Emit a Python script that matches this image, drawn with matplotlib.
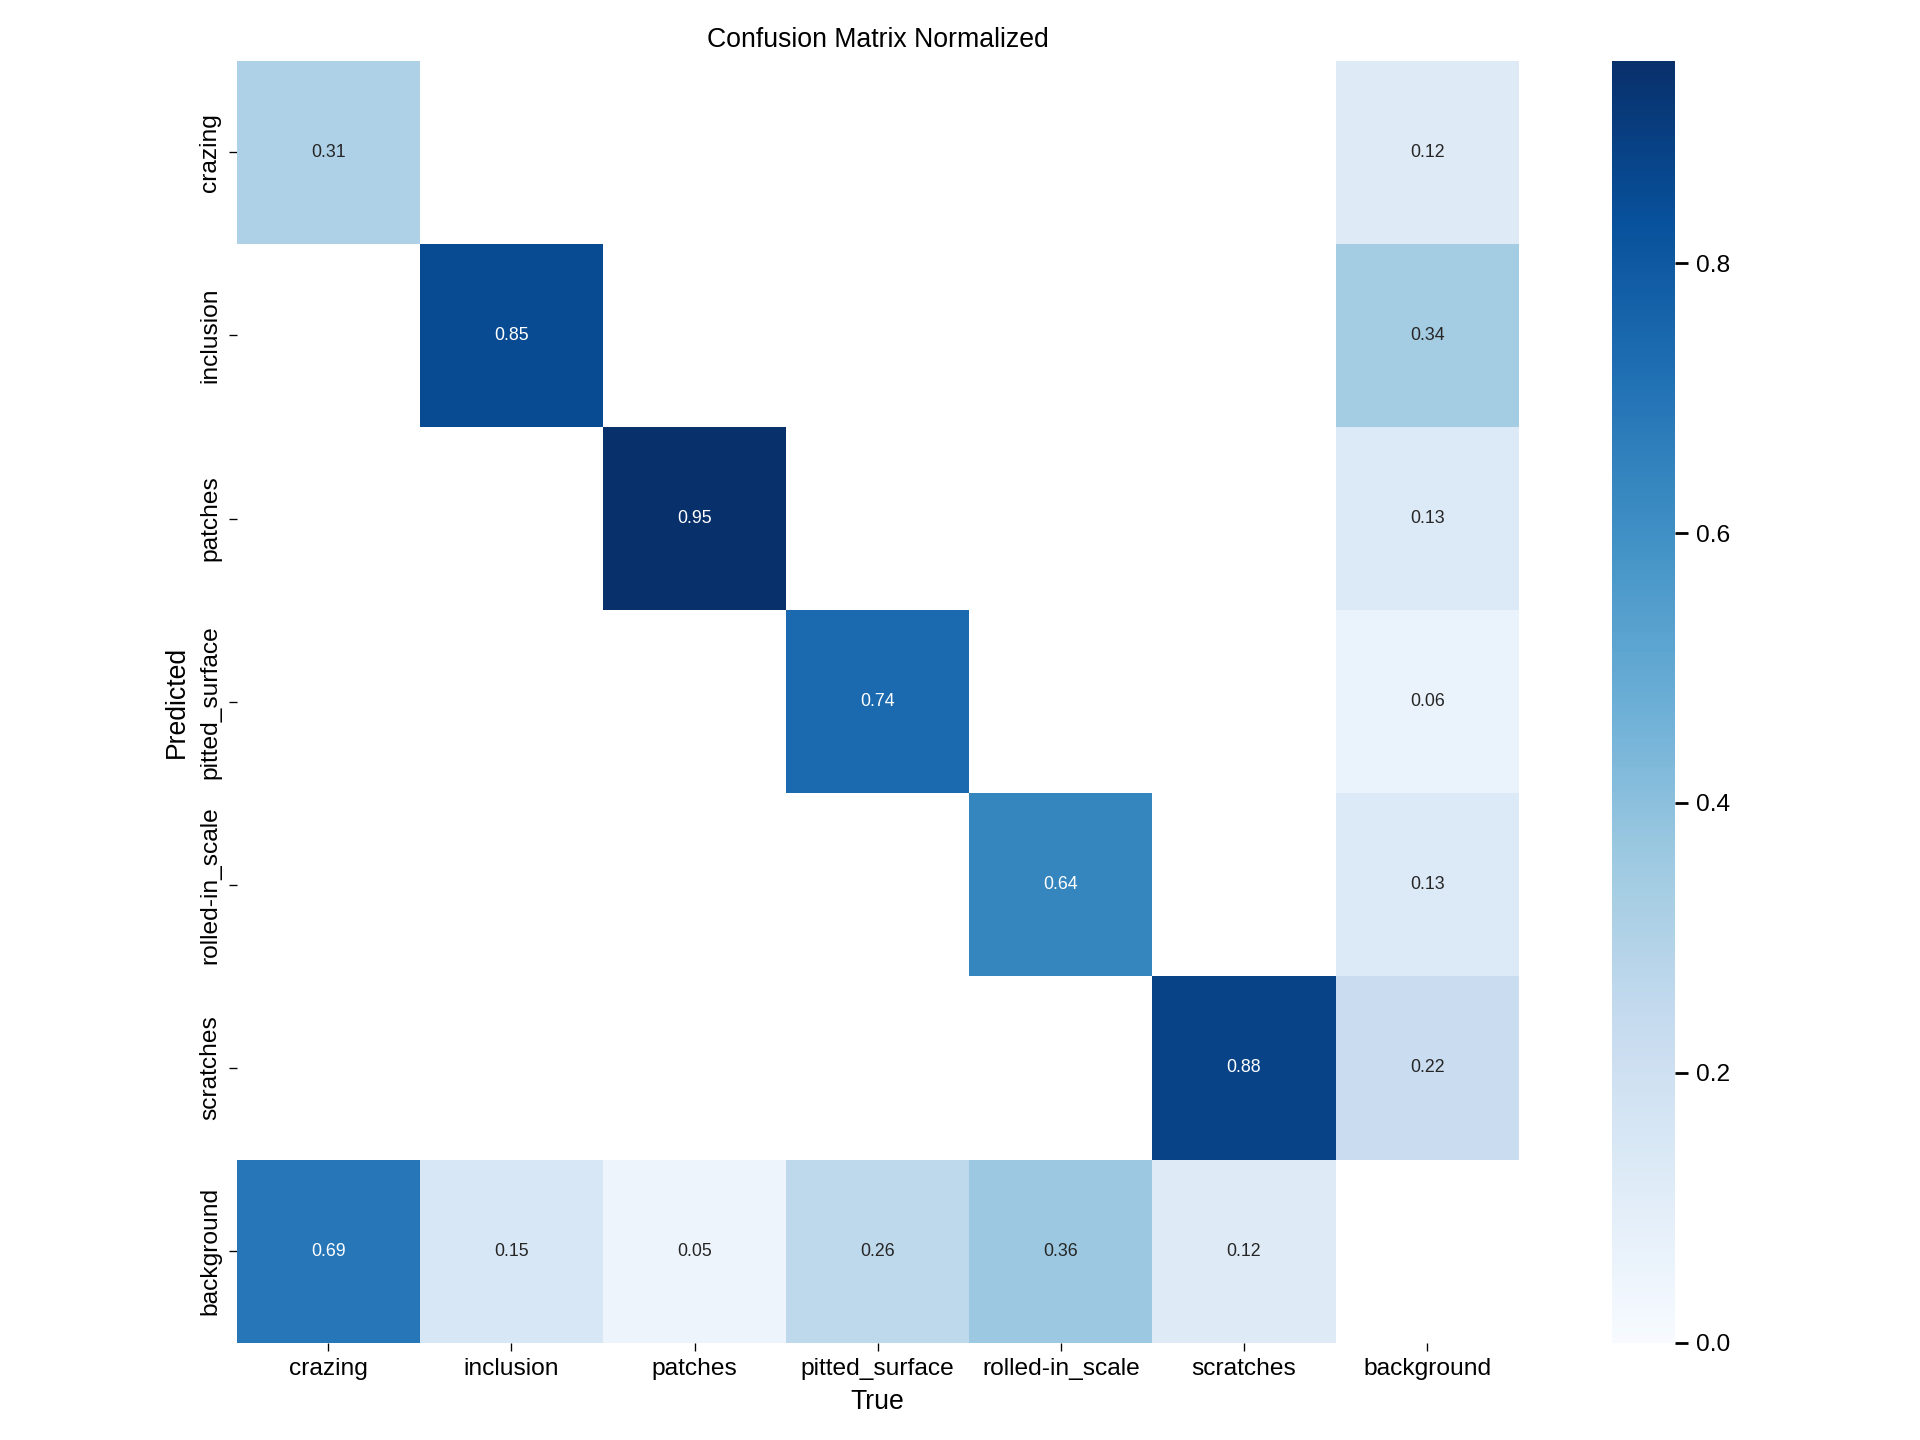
import numpy as np
import matplotlib
matplotlib.use("Agg")
import matplotlib.pyplot as plt
import seaborn as sns

labels = ["crazing", "inclusion", "patches", "pitted_surface", "rolled-in_scale", "scratches", "background"]
nan = np.nan
row_crazing = [0.31, nan, nan, nan, nan, nan, 0.12]
row_inclusion = [nan, 0.85, nan, nan, nan, nan, 0.34]
row_patches = [nan, nan, 0.95, nan, nan, nan, 0.13]
row_pitted = [nan, nan, nan, 0.74, nan, nan, 0.06]
row_rolled = [nan, nan, nan, nan, 0.64, nan, 0.13]
row_scratches = [nan, nan, nan, nan, nan, 0.88, 0.22]
row_background = [0.69, 0.15, 0.05, 0.26, 0.36, 0.12, nan]

array = np.array([row_crazing, row_inclusion, row_patches, row_pitted,
                  row_rolled, row_scratches, row_background])

sns.set_theme(font_scale=1.0)
plt.rcParams['font.family'] = ['Liberation Sans', 'DejaVu Sans']
plt.rcParams['xtick.bottom'] = True
plt.rcParams['ytick.left'] = True
plt.rcParams['ytick.right'] = False
plt.rcParams['xtick.color'] = 'black'
plt.rcParams['ytick.color'] = 'black'
plt.rcParams['xtick.labelcolor'] = 'black'
plt.rcParams['ytick.labelcolor'] = 'black'
plt.rcParams['text.color'] = 'black'
plt.rcParams['axes.labelcolor'] = 'black'

W, H = 1920.0, 1440.0
fig = plt.figure(figsize=(12, 9))
ax = fig.add_axes([236.7 / W, (H - 1342.7) / H, 1282 / W, 1282 / H])
cax = fig.add_axes([1612 / W, (H - 1342.7) / H, 63 / W, 1282 / H])
sns.heatmap(array, ax=ax, cbar_ax=cax, annot=True, annot_kws={"size": 8}, cmap='Blues', fmt='.2f',
            square=True, vmin=0.0, xticklabels=labels, yticklabels=labels).set_facecolor((1, 1, 1))
ax.set_xlabel('True')
ax.set_ylabel('Predicted')
ax.set_title('Confusion Matrix Normalized')
ax.tick_params(axis='both', length=3.5, width=0.6, color='black', labelcolor='black')
cax.tick_params(right=True, length=6, width=1.25, color='black', labelcolor='black')
fig.savefig('out.png', dpi=160)
